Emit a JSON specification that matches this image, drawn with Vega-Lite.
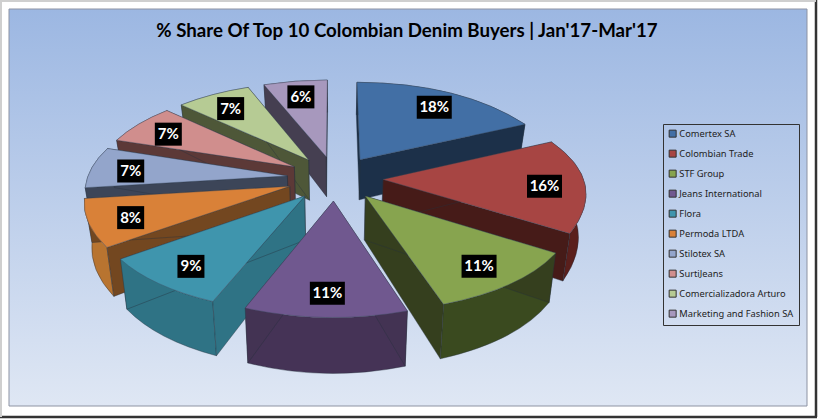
{"$schema":"https://vega.github.io/schema/vega-lite/v6.json","width":798,"height":397,"autosize":"none","padding":{"left":9,"top":9,"right":13,"bottom":14},"background":"#ffffff","view":{"stroke":null},"resolve":{"scale":{"color":"independent"}},
"layer":[
{"data":{"values":[{}]},"mark":{"type":"rect","stroke":"#8d93a3","strokeWidth":1,"fill":{"gradient":"linear","x1":0,"y1":0,"x2":0,"y2":1,"stops":[{"offset":0,"color":"#9cb7e2"},{"offset":1,"color":"#dfe7f4"}]}},"encoding":{}},
{"data":{"values":[{"edge":"right"}]},"mark":{"type":"rule","stroke":"#333333","strokeWidth":2.5},"encoding":{"x":{"datum":816,"type":"quantitative","scale":{"domain":[9,807],"nice":false,"zero":false},"axis":null},"y":{"datum":0,"type":"quantitative","scale":{"domain":[406,9],"nice":false,"zero":false},"axis":null},"y2":{"datum":417}}},
{"data":{"values":[{"edge":"bottom"}]},"mark":{"type":"rule","stroke":"#333333","strokeWidth":2.5},"encoding":{"x":{"datum":0,"type":"quantitative","scale":{"domain":[9,807],"nice":false,"zero":false},"axis":null},"x2":{"datum":817},"y":{"datum":417,"type":"quantitative","scale":{"domain":[406,9],"nice":false,"zero":false},"axis":null}}},
{"data":{"values":[{"edge":"left"}]},"mark":{"type":"rule","stroke":"#cfcfcf","strokeWidth":2},"encoding":{"x":{"datum":1,"type":"quantitative","scale":{"domain":[9,807],"nice":false,"zero":false},"axis":null},"y":{"datum":0,"type":"quantitative","scale":{"domain":[406,9],"nice":false,"zero":false},"axis":null},"y2":{"datum":417}}},
{"data":{"values":[{"edge":"top"}]},"mark":{"type":"rule","stroke":"#cfcfcf","strokeWidth":2},"encoding":{"x":{"datum":0,"type":"quantitative","scale":{"domain":[9,807],"nice":false,"zero":false},"axis":null},"x2":{"datum":816},"y":{"datum":1,"type":"quantitative","scale":{"domain":[406,9],"nice":false,"zero":false},"axis":null}}},
{"data":{"values":[
{"idx":1,"buyer":"Comertex SA","share":18},
{"idx":2,"buyer":"Colombian Trade","share":16},
{"idx":3,"buyer":"STF Group","share":11},
{"idx":4,"buyer":"Jeans International","share":11},
{"idx":5,"buyer":"Flora","share":9},
{"idx":6,"buyer":"Permoda LTDA","share":8},
{"idx":7,"buyer":"Stilotex SA","share":7},
{"idx":8,"buyer":"SurtiJeans","share":7},
{"idx":9,"buyer":"Comercializadora Arturo","share":7},
{"idx":10,"buyer":"Marketing and Fashion SA","share":6}
]},
"transform":[
{"window":[{"op":"sum","field":"share","as":"cum"}],"sort":[{"field":"idx","order":"ascending"}]},
{"calculate":"(datum.cum-datum.share)/100*2*PI","as":"a0"},
{"calculate":"datum.cum/100*2*PI","as":"a1"},
{"calculate":"(datum.a0+datum.a1)/2","as":"am"},
{"calculate":"0.24*sin(datum.am)","as":"ex"},
{"calculate":"0.24*cos(datum.am)","as":"ey"},
{"calculate":"335+200*datum.ex/(1+0.14*datum.ey)","as":"tx"},
{"calculate":"178-93*datum.ey/(1+0.14*datum.ey)","as":"ty"},
{"calculate":"335+200*(datum.ex+sin(datum.a0))/(1+0.14*(datum.ey+cos(datum.a0)))","as":"x0"},
{"calculate":"178-93*(datum.ey+cos(datum.a0))/(1+0.14*(datum.ey+cos(datum.a0)))","as":"y0"},
{"calculate":"335+200*(datum.ex+sin(datum.a1))/(1+0.14*(datum.ey+cos(datum.a1)))","as":"x1"},
{"calculate":"178-93*(datum.ey+cos(datum.a1))/(1+0.14*(datum.ey+cos(datum.a1)))","as":"y1"},
{"calculate":"335+200*(datum.ex+sin(datum.am))/(1+0.14*(datum.ey+cos(datum.am)))","as":"xm"},
{"calculate":"178-93*(datum.ey+cos(datum.am))/(1+0.14*(datum.ey+cos(datum.am)))","as":"ym"},
{"calculate":"2*datum.xm-(datum.x0+datum.x1)/2","as":"qx"},
{"calculate":"2*datum.ym-(datum.y0+datum.y1)/2","as":"qy"},
{"calculate":"335+(datum.tx-335)*0.97","as":"btx"},
{"calculate":"178+(datum.ty-178)*1.1+42","as":"bty"},
{"calculate":"335+(datum.x0-335)*0.97","as":"bx0"},
{"calculate":"178+(datum.y0-178)*1.1+42","as":"by0"},
{"calculate":"335+(datum.x1-335)*0.97","as":"bx1"},
{"calculate":"178+(datum.y1-178)*1.1+42","as":"by1"},
{"calculate":"335+(datum.qx-335)*0.97","as":"bqx"},
{"calculate":"178+(datum.qy-178)*1.1+42","as":"bqy"},
{"calculate":"'M0 0 L'+(datum.x0-datum.tx)+' '+(datum.y0-datum.ty)+' Q'+(datum.qx-datum.tx)+' '+(datum.qy-datum.ty)+' '+(datum.x1-datum.tx)+' '+(datum.y1-datum.ty)+' Z'","as":"topPath"},
{"calculate":"'M0 0 L'+(datum.x0-datum.tx)+' '+(datum.y0-datum.ty)+' L'+(datum.bx0-datum.tx)+' '+(datum.by0-datum.ty)+' L'+(datum.btx-datum.tx)+' '+(datum.bty-datum.ty)+' Z M0 0 L'+(datum.x1-datum.tx)+' '+(datum.y1-datum.ty)+' L'+(datum.bx1-datum.tx)+' '+(datum.by1-datum.ty)+' L'+(datum.btx-datum.tx)+' '+(datum.bty-datum.ty)+' Z'","as":"radialPath"},
{"calculate":"'M'+(datum.x0-datum.tx)+' '+(datum.y0-datum.ty)+' Q'+(datum.qx-datum.tx)+' '+(datum.qy-datum.ty)+' '+(datum.x1-datum.tx)+' '+(datum.y1-datum.ty)+' L'+(datum.bx1-datum.tx)+' '+(datum.by1-datum.ty)+' Q'+(datum.bqx-datum.tx)+' '+(datum.bqy-datum.ty)+' '+(datum.bx0-datum.tx)+' '+(datum.by0-datum.ty)+' Z'","as":"outerPath"},
{"calculate":"335+200*(datum.ex+0.8*sin(datum.am))/(1+0.14*(datum.ey+0.8*cos(datum.am)))","as":"lx"},
{"calculate":"180-93*(datum.ey+0.8*cos(datum.am))/(1+0.14*(datum.ey+0.8*cos(datum.am)))","as":"ly"},
{"calculate":"datum.share>=10?17.5:13.5","as":"hw"},
{"calculate":"datum.lx-datum.hw","as":"lxa"},
{"calculate":"datum.lx+datum.hw","as":"lxb"},
{"calculate":"datum.ly-11.5","as":"lya"},
{"calculate":"datum.ly+11.5","as":"lyb"},
{"calculate":"format(datum.share,'.0f')+'%'","as":"label"}
],
"resolve":{"scale":{"color":"independent"}},
"layer":[
{"mark":{"type":"point","filled":true,"size":4,"opacity":1,"stroke":"#26303c","strokeWidth":0.4},"encoding":{"x":{"field":"tx","type":"quantitative","scale":{"domain":[9,807],"nice":false,"zero":false},"axis":null},"y":{"field":"ty","type":"quantitative","scale":{"domain":[406,9],"nice":false,"zero":false},"axis":null},"shape":{"field":"outerPath","type":"nominal","scale":null},"order":{"field":"ey","sort":"descending"},"color":{"field":"buyer","type":"nominal","legend":null,"scale":{"domain":["Comertex SA","Colombian Trade","STF Group","Jeans International","Flora","Permoda LTDA","Stilotex SA","SurtiJeans","Comercializadora Arturo","Marketing and Fashion SA"],"range":["#2d4a6e","#5a1f1c","#3a4a1f","#453356","#2f7385","#b87430","#6c7a96","#8a5f5e","#7f8e66","#6f6580"]}}}},
{"mark":{"type":"point","filled":true,"size":4,"opacity":1,"stroke":"#26303c","strokeWidth":0.4},"encoding":{"x":{"field":"tx","type":"quantitative","scale":{"domain":[9,807],"nice":false,"zero":false},"axis":null},"y":{"field":"ty","type":"quantitative","scale":{"domain":[406,9],"nice":false,"zero":false},"axis":null},"shape":{"field":"radialPath","type":"nominal","scale":null},"order":{"field":"ey","sort":"descending"},"color":{"field":"buyer","type":"nominal","legend":null,"scale":{"domain":["Comertex SA","Colombian Trade","STF Group","Jeans International","Flora","Permoda LTDA","Stilotex SA","SurtiJeans","Comercializadora Arturo","Marketing and Fashion SA"],"range":["#1c3049","#461b18","#353f1e","#433353","#2f7385","#734720","#3c4558","#5c3937","#4e5738","#453f51"]}}}},
{"mark":{"type":"point","filled":true,"size":4,"opacity":1,"stroke":"#3a4a5e","strokeWidth":0.4},"encoding":{"x":{"field":"tx","type":"quantitative","scale":{"domain":[9,807],"nice":false,"zero":false},"axis":null},"y":{"field":"ty","type":"quantitative","scale":{"domain":[406,9],"nice":false,"zero":false},"axis":null},"shape":{"field":"topPath","type":"nominal","scale":null},"color":{"field":"buyer","type":"nominal","scale":{"domain":["Comertex SA","Colombian Trade","STF Group","Jeans International","Flora","Permoda LTDA","Stilotex SA","SurtiJeans","Comercializadora Arturo","Marketing and Fashion SA"],"range":["#426fa5","#a74543","#87a44f","#70588f","#3f95ad","#d98138","#93a5cb","#d08e8d","#b6cb94","#a798bd"]},"legend":{"title":null,"orient":"none","legendX":654,"legendY":115,"symbolType":"square","symbolSize":49,"symbolStrokeColor":"#333333","symbolStrokeWidth":1,"labelFont":"Noto Sans","labelFontSize":9.3,"labelColor":"#222222","labelLimit":160,"rowPadding":8,"padding":5,"strokeColor":"#333333","labelOffset":2}}}},
{"mark":{"type":"rect","color":"#000000"},"encoding":{"x":{"field":"lxa","type":"quantitative","scale":{"domain":[9,807],"nice":false,"zero":false},"axis":null},"x2":{"field":"lxb"},"y":{"field":"lya","type":"quantitative","scale":{"domain":[406,9],"nice":false,"zero":false},"axis":null},"y2":{"field":"lyb"}}},
{"mark":{"type":"text","color":"#ffffff","font":"Lato","fontWeight":"bold","fontSize":15,"align":"center","baseline":"middle"},"encoding":{"x":{"field":"lx","type":"quantitative","scale":{"domain":[9,807],"nice":false,"zero":false},"axis":null},"y":{"field":"ly","type":"quantitative","scale":{"domain":[406,9],"nice":false,"zero":false},"axis":null},"text":{"field":"label"}}}
]},
{"data":{"values":[{"title":"% Share Of Top 10 Colombian Denim Buyers | Jan'17-Mar'17"}]},"mark":{"type":"text","font":"Lato","fontWeight":"bold","fontSize":18.7,"color":"#000000","align":"center","baseline":"middle"},"encoding":{"x":{"datum":407,"type":"quantitative","scale":{"domain":[9,807],"nice":false,"zero":false},"axis":null},"y":{"datum":31,"type":"quantitative","scale":{"domain":[406,9],"nice":false,"zero":false},"axis":null},"text":{"field":"title"}}}
]}
